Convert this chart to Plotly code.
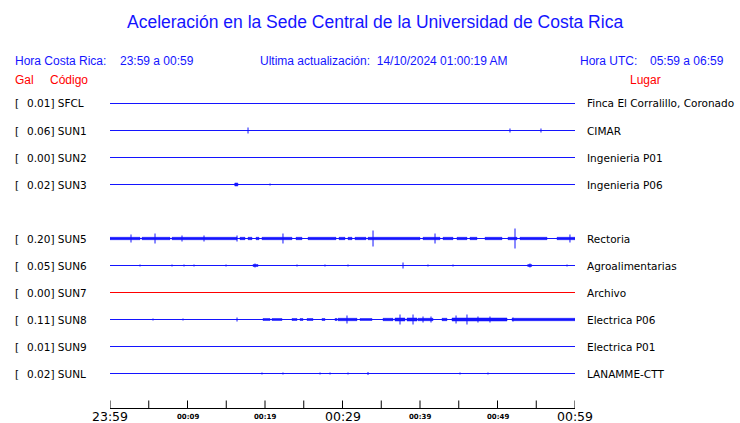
import plotly.graph_objects as go

# ---------------- data ----------------
codes = ["SFCL", "SUN1", "SUN2", "SUN3", "SUN5", "SUN6", "SUN7", "SUN8", "SUN9", "SUNL"]
slots = [0, 1, 2, 3, 5, 6, 7, 8, 9, 10]          # row slot (SUN4 absent)
pga_gal = ["0.01", "0.06", "0.00", "0.02", "0.20", "0.05", "0.00", "0.11", "0.01", "0.02"]
places = ["Finca El Corralillo, Coronado", "CIMAR", "Ingenieria P01", "Ingenieria P06",
          "Rectoria", "Agroalimentarias", "Archivo", "Electrica P06", "Electrica P01", "LANAMME-CTT"]
archived = ["SUN7"]

tick_minutes = [0, 5, 10, 15, 20, 25, 30, 35, 40, 45, 50, 55, 60]
label_minutes = [0, 10, 20, 30, 40, 50, 60]
label_texts = ["23:59", "00:09", "00:19", "00:29", "00:39", "00:49", "00:59"]
label_major = [True, False, False, True, False, False, True]

# noise bursts: [start min, end min, half-amplitude]; spikes: [min, half-amplitude]
bursts = {
    "SUN3": [[16.1, 16.5, 1.5]],
    "SUN5": [[0, 3.87, 1.2], [4.13, 7.74, 1.2], [8.0, 16.39, 1.2], [16.77, 17.42, 1.2],
             [17.81, 18.32, 1.2], [18.84, 19.23, 1.2], [19.61, 23.48, 1.2], [24.0, 24.77, 1.2],
             [25.55, 29.16, 1.2], [29.55, 30.32, 1.2], [30.71, 31.23, 1.2], [31.61, 33.03, 1.2],
             [33.29, 40.0, 1.2], [40.39, 42.58, 1.2], [42.97, 44.26, 1.2], [44.77, 46.06, 1.2],
             [46.45, 47.35, 1.2], [48.39, 50.58, 1.2], [51.35, 52.52, 1.2], [52.9, 56.39, 1.2],
             [57.68, 60.0, 1.2]],
    "SUN6": [[18.45, 19.1, 1.0], [53.9, 54.4, 1.0]],
    "SUN8": [[19.74, 20.65, 1.0], [20.9, 22.19, 1.0], [23.48, 24.13, 1.0], [24.52, 24.9, 1.0],
             [25.42, 26.19, 1.0], [27.35, 27.74, 1.0], [29.03, 29.29, 1.0], [29.42, 31.87, 1.2],
             [32.26, 33.81, 1.0], [35.23, 36.52, 1.2], [36.77, 38.06, 1.5], [38.32, 39.61, 1.5],
             [39.74, 41.68, 1.2], [42.84, 43.48, 1.2], [44.13, 51.23, 1.5], [51.87, 60.0, 1.2]],
}
spikes = {
    "SUN1": [[17.81, 3], [51.61, 2], [55.61, 2]],
    "SUN3": [[20.65, 1]],
    "SUN5": [[2.71, 4], [5.81, 5], [9.29, 3], [12.13, 3], [16.39, 3], [22.32, 5],
             [33.94, 8], [41.94, 5], [52.26, 10], [59.35, 4]],
    "SUN6": [[3.87, 1], [8.0, 1], [9.55, 1], [10.84, 1], [14.97, 1], [18.71, 2], [24.13, 1],
             [27.74, 1], [30.71, 1], [37.81, 3], [41.03, 1], [44.26, 1], [54.19, 2], [58.97, 1]],
    "SUN8": [[5.55, 1], [9.42, 1], [16.39, 2], [30.58, 4], [37.42, 5], [39.1, 5], [40.39, 3],
             [41.42, 3], [44.65, 4], [46.06, 5], [47.48, 3], [49.03, 3], [52.0, 2]],
    "SUNL": [[19.61, 1], [22.32, 1], [27.1, 1], [28.39, 1], [30.71, 1], [33.29, 1.5],
             [45.16, 1], [48.77, 1]],
}

# ---------------- layout constants ----------------
W, H = 740, 423
ROW0, ROWSTEP = 103.5, 27        # pixel y of first row centre, row spacing
X0, X1 = 110, 575                # pixel extent of time axis
AXIS_PX = 408.5                  # pixel y (centre) of the time-axis line
TICK_LEN = 8
BLUE = "#1414ff"
RED = "#ff0000"
LFONT = "DejaVu Sans"
HFONT = "Liberation Sans"


def px_to_row(p):
    return (p - ROW0) / ROWSTEP


y_bottom = px_to_row(H)
y_top = px_to_row(0)
amp_scale = 1.0 / ROWSTEP
axis_v = px_to_row(AXIS_PX)
tick_top_v = px_to_row(AXIS_PX - TICK_LEN)

fig = go.Figure()

# time axis: baseline and tick marks at the axis tick positions
ax_x, ax_y = [tick_minutes[0], tick_minutes[-1], None], [axis_v, axis_v, None]
for t in tick_minutes:
    ax_x += [t, t, None]
    ax_y += [axis_v, tick_top_v, None]
fig.add_trace(go.Scatter(x=ax_x, y=ax_y, mode="lines", line=dict(color="black", width=1),
                         hoverinfo="skip", showlegend=False))

for code, slot in zip(codes, slots):
    color = RED if code in archived else BLUE
    xs, ys = [0, 60, None], [slot, slot, None]
    for t, a in spikes.get(code, []):
        xs += [t, t, None]
        ys += [slot - a * amp_scale, slot + a * amp_scale, None]
    fig.add_trace(go.Scatter(x=xs, y=ys, mode="lines", line=dict(color=color, width=1),
                             hoverinfo="skip", showlegend=False))
    if code in bursts:
        bx, by = [], []
        for t0, t1, a in bursts[code]:
            bx += [t0, t1, t1, t0, t0, None]
            by += [slot - a * amp_scale, slot - a * amp_scale, slot + a * amp_scale,
                   slot + a * amp_scale, slot - a * amp_scale, None]
        fig.add_trace(go.Scatter(x=bx, y=by, mode="lines", fill="toself", fillcolor=color,
                                 line=dict(color=color, width=0.5),
                                 hoverinfo="skip", showlegend=False))

annotations = []


def txt(x, y, text, color="black", size=12, family=HFONT, xanchor="left"):
    annotations.append(dict(x=x / W, y=1 - y / H, xref="paper", yref="paper",
                            text=text, showarrow=False, xanchor=xanchor, yanchor="middle",
                            font=dict(color=color, size=size, family=family)))


# header
txt(375, 22, "Aceleración en la Sede Central de la Universidad de Costa Rica", BLUE, 17.5, xanchor="center")
txt(13, 61, "Hora Costa Rica:", BLUE, 12)
txt(118, 61, "23:59 a 00:59", BLUE, 12)
txt(258, 61, "Ultima actualización:&nbsp;&nbsp;14/10/2024 01:00:19 AM", BLUE, 12)
txt(578, 61, "Hora UTC:", BLUE, 12)
txt(648, 61, "05:59 a 06:59", BLUE, 12)
txt(13, 80, "Gal", RED, 12)
txt(48, 80, "Código", RED, 12)
txt(628, 80, "Lugar", RED, 12)

# station labels
for code, slot, g, place in zip(codes, slots, pga_gal, places):
    y = ROW0 + ROWSTEP * slot
    txt(13, y, "[", "black", 10.5, LFONT)
    txt(25, y, f"{g}] {code}", "black", 10.5, LFONT)
    txt(585, y, place, "black", 10.5, LFONT)

fig.update_layout(
    width=W, height=H, margin=dict(l=0, r=0, t=0, b=0),
    paper_bgcolor="white", plot_bgcolor="white",
    annotations=annotations,
    xaxis=dict(range=[0, 60], domain=[X0 / W, X1 / W], visible=False, showgrid=False,
               zeroline=False, fixedrange=True),
    yaxis=dict(range=[y_bottom, y_top], domain=[0, 1], visible=False, showgrid=False,
               zeroline=False, fixedrange=True),
)

# time-axis labels placed at the axis' own positions
for m, t, major in zip(label_minutes, label_texts, label_major):
    fig.add_annotation(x=m, y=px_to_row(416.5), xref="x", yref="y",
                       text=t if major else f"<b>{t}</b>",
                       showarrow=False, xanchor="center", yanchor="middle",
                       font=dict(color="black", size=12.5 if major else 7, family=LFONT))

fig.write_html("out.html", config={"displayModeBar": False, "staticPlot": True},
               post_script="document.body.style.margin='0';document.body.style.padding='0';")
